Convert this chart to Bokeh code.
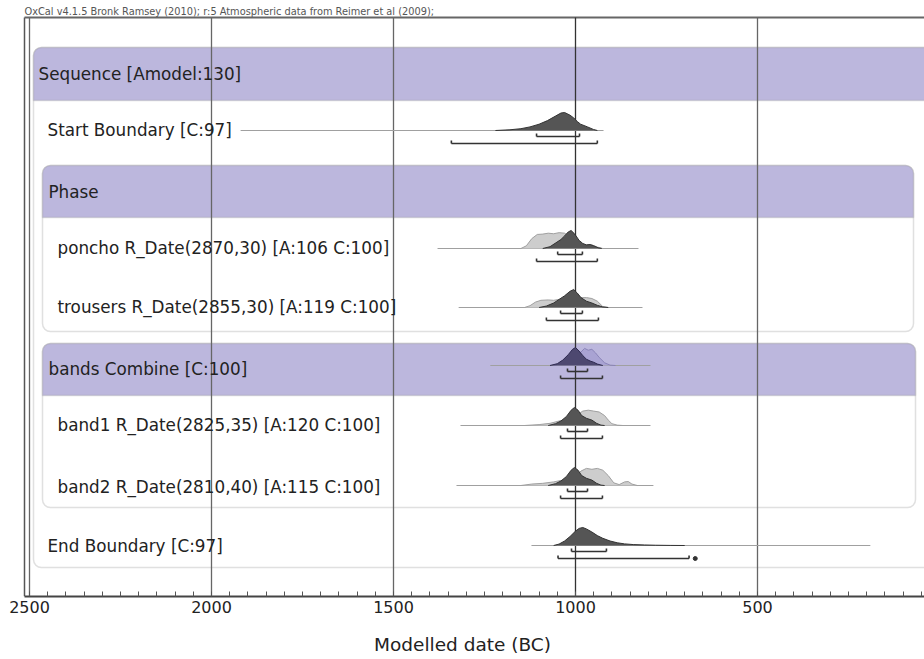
import numpy as np
from bokeh.plotting import figure
from bokeh.models import Range1d, SingleIntervalTicker, BoxAnnotation
from bokeh.embed import file_html
from bokeh.resources import INLINE
from bokeh.core.properties import value

# ---------------- data ----------------
HEADER = "OxCal v4.1.5 Bronk Ramsey (2010); r:5 Atmospheric data from Reimer et al (2009);"
AXIS_TITLE = "Modelled date (BC)"
TICK_YEARS = [2500, 2000, 1500, 1000, 500]

row_labels = [
    "Sequence [Amodel:130]",
    "Start Boundary [C:97]",
    "Phase",
    "poncho R_Date(2870,30) [A:106 C:100]",
    "trousers R_Date(2855,30) [A:119 C:100]",
    "bands Combine [C:100]",
    "band1 R_Date(2825,35) [A:120 C:100]",
    "band2 R_Date(2810,40) [A:115 C:100]",
    "End Boundary [C:97]",
]

# Start Boundary
start_span = [1920, 923]
start_post_x = [1220, 1180, 1150, 1125, 1100, 1077, 1055, 1040, 1030, 1015, 1005, 995, 986, 967, 951, 940]
start_post_p = [0, 0.04, 0.1, 0.2, 0.35, 0.55, 0.8, 0.97, 1.0, 0.85, 0.7, 0.5, 0.35, 0.2, 0.06, 0]
start_r68 = [1107, 989]
start_r95 = [1341, 940]

# poncho
poncho_span = [1379, 827]
poncho_like_x = [1150, 1135, 1120, 1105, 1090, 1075, 1060, 1045, 1030, 1015, 1000, 985, 970, 955, 940, 925]
poncho_like_p = [0, 0.15, 0.55, 0.78, 0.8, 0.85, 0.82, 0.88, 0.85, 0.65, 0.4, 0.25, 0.2, 0.2, 0.08, 0]
poncho_post_x = [1090, 1070, 1055, 1040, 1030, 1020, 1012, 1002, 990, 980, 970, 960, 950, 938, 928]
poncho_post_p = [0, 0.1, 0.3, 0.5, 0.7, 0.92, 1.0, 0.8, 0.45, 0.28, 0.2, 0.22, 0.15, 0.04, 0]
poncho_r68 = [1049, 981]
poncho_r95 = [1107, 940]

# trousers
trousers_span = [1321, 816]
trousers_like_x = [1140, 1125, 1110, 1095, 1075, 1060, 1045, 1030, 1015, 1000, 985, 970, 955, 940, 925, 910]
trousers_like_p = [0, 0.1, 0.3, 0.4, 0.42, 0.4, 0.45, 0.5, 0.6, 0.6, 0.55, 0.55, 0.5, 0.35, 0.05, 0]
trousers_post_x = [1100, 1080, 1060, 1045, 1030, 1015, 1005, 995, 985, 970, 955, 940, 925, 910]
trousers_post_p = [0, 0.08, 0.25, 0.45, 0.65, 0.9, 1.0, 0.8, 0.55, 0.35, 0.25, 0.12, 0.03, 0]
trousers_r68 = [1041, 981]
trousers_r95 = [1080, 937]

# bands Combine
combine_span = [1234, 794]
combine_like_x = [1060, 1040, 1020, 1000, 985, 975, 965, 955, 945, 935, 920, 905, 890]
combine_like_p = [0, 0.1, 0.35, 0.6, 0.75, 0.95, 0.85, 0.9, 0.7, 0.45, 0.15, 0.02, 0]
combine_post_x = [1070, 1050, 1035, 1020, 1008, 1000, 990, 980, 970, 960, 950, 940, 925]
combine_post_p = [0, 0.1, 0.3, 0.6, 0.9, 1.0, 0.8, 0.55, 0.35, 0.25, 0.18, 0.08, 0]
combine_r68 = [1022, 967]
combine_r95 = [1041, 926]

# band1
band1_span = [1316, 794]
band1_like_x = [1140, 1100, 1070, 1045, 1025, 1010, 995, 980, 965, 950, 935, 920, 910, 900, 885, 870]
band1_like_p = [0, 0.05, 0.12, 0.25, 0.35, 0.45, 0.6, 0.8, 0.85, 0.8, 0.75, 0.55, 0.3, 0.1, 0.02, 0]
band1_post_x = [1075, 1055, 1040, 1025, 1012, 1003, 993, 983, 970, 955, 942, 930, 920]
band1_post_p = [0, 0.1, 0.25, 0.5, 0.85, 1.0, 0.85, 0.55, 0.4, 0.3, 0.12, 0.02, 0]
band1_r68 = [1022, 967]
band1_r95 = [1041, 926]

# band2
band2_span = [1327, 786]
band2_like_x = [1150, 1120, 1090, 1060, 1040, 1020, 1000, 985, 970, 955, 940, 925, 910, 895, 880, 865, 855, 845, 830]
band2_like_p = [0, 0.08, 0.12, 0.2, 0.28, 0.35, 0.5, 0.8, 0.95, 0.9, 0.95, 0.85, 0.55, 0.15, 0.05, 0.2, 0.22, 0.08, 0]
band2_post_x = [1075, 1055, 1040, 1025, 1012, 1003, 993, 983, 970, 955, 942, 930, 920]
band2_post_p = [0, 0.1, 0.25, 0.5, 0.85, 1.0, 0.85, 0.55, 0.4, 0.3, 0.12, 0.02, 0]
band2_r68 = [1022, 967]
band2_r95 = [1041, 926]

# End Boundary
end_span = [1121, 190]
end_post_x = [1060, 1045, 1030, 1015, 1000, 990, 980, 970, 955, 940, 925, 905, 885, 865, 840, 810, 780, 740, 700]
end_post_p = [0, 0.08, 0.25, 0.5, 0.8, 0.95, 1.0, 0.92, 0.75, 0.55, 0.4, 0.25, 0.15, 0.09, 0.05, 0.03, 0.015, 0.005, 0]
end_r68 = [1011, 915]
end_r95 = [1048, 688]
end_r95_extra = [671]

# ---------------- layout ----------------
W, H = 924, 659
AX_H = 63
FRAME_BOTTOM = H - AX_H


def px2yr(px):
    return 2000 - (px - 211) / 0.364


FONT = value("DejaVu Sans")
GRAY = "#222222"
BAND = "#bcb7dd"
BORDER = "#999999"

p = figure(width=W, height=H, output_backend="svg", toolbar_location=None,
           x_range=Range1d(px2yr(0), px2yr(W)),
           y_range=Range1d(FRAME_BOTTOM, 0),
           min_border_left=0, min_border_right=0, min_border_top=0,
           min_border_bottom=AX_H)
p.outline_line_color = None
p.background_fill_color = "white"
p.border_fill_color = "white"
p.yaxis.visible = False
p.xgrid.visible = False
p.ygrid.visible = False

ax = p.xaxis[0]
ax.ticker = SingleIntervalTicker(interval=500, num_minor_ticks=10)
ax.bounds = (px2yr(930), px2yr(24))
ax.axis_line_color = "#444444"
ax.axis_line_width = 2
ax.major_tick_in = 0
ax.major_tick_out = 0
ax.minor_tick_in = 5
ax.minor_tick_out = 0
ax.minor_tick_line_color = "#555555"
ax.major_label_standoff = 4
ax.major_label_text_font = "DejaVu Sans"
ax.major_label_text_font_size = "16px"
ax.major_label_text_color = GRAY
ax.axis_label = AXIS_TITLE
ax.axis_label_standoff = 18
ax.axis_label_text_font = "DejaVu Sans"
ax.axis_label_text_font_size = "18.5px"
ax.axis_label_text_font_style = "normal"
ax.axis_label_text_color = GRAY


def box(l, r, t, b, fill, radius, line=BORDER):
    bx = BoxAnnotation(left=px2yr(l), right=px2yr(r), top=t, bottom=b,
                       fill_color=fill, fill_alpha=1.0, line_color=line,
                       line_width=1.5, border_radius=radius, level="image")
    p.add_layout(bx)


top_r = dict(top_left=8, top_right=8, bottom_right=0, bottom_left=0)
# Sequence box and header
box(33, 935, 47, 567, "white", 8)
box(33, 935, 47, 100, BAND, top_r)
# Phase box
box(42, 913, 165, 331, "white", 8)
box(42, 913, 165, 217, BAND, top_r)
# Combine box
box(42, 915, 343, 507, "white", 8)
box(42, 915, 343, 395, BAND, top_r)

# frame lines and vertical grid lines
p.segment(x0=[px2yr(24)], y0=[17], x1=[px2yr(24)], y1=[FRAME_BOTTOM], line_color="#555555", line_width=1.5)
p.segment(x0=[px2yr(24)], y0=[17], x1=[px2yr(940)], y1=[17], line_color="#666666", line_width=2)
grid_cols = ["#666666" if t != 1000 else "#333333" for t in TICK_YEARS]
p.segment(x0=TICK_YEARS, y0=[17] * len(TICK_YEARS), x1=TICK_YEARS, y1=[FRAME_BOTTOM] * len(TICK_YEARS),
          line_color=grid_cols, line_width=1.3)

# header text
p.text(x=[px2yr(24)], y=[11], text=[HEADER], text_font=FONT,
       text_font_size="9.8px", text_color="#555555", text_baseline="middle")

# row labels
label_px = [38, 47, 48, 57, 57, 48, 57, 57, 47]
label_py = [73, 129, 191, 247, 306, 368, 424, 486, 545]
p.text(x=[px2yr(v) for v in label_px], y=label_py, text=row_labels, text_font=FONT,
       text_font_size="16.8px", text_color=GRAY, text_baseline="middle")

HMAX = 18.0


def draw_row(base, span, like_x, like_p, post_x, post_p, r68, r95,
             like_col="#cdcdcd", like_edge="#a0a0a0", post_col="#555555", post_edge="#333333"):
    p.line(x=span, y=[base, base], line_color="#a0a0a0", line_width=1.2)
    if like_x is not None:
        yy = base - np.array(like_p) * HMAX
        p.varea(x=like_x, y1=[base] * len(like_x), y2=yy, fill_color=like_col)
        p.line(x=like_x, y=yy, line_color=like_edge, line_width=1)
    yy = base - np.array(post_p) * HMAX
    p.varea(x=post_x, y1=[base] * len(post_x), y2=yy, fill_color=post_col)
    p.line(x=post_x, y=yy, line_color=post_edge, line_width=1)
    for r, off in ((r68, 6), (r95, 13)):
        y = base + off
        p.segment(x0=[r[0], r[0], r[1]], y0=[y, y, y], x1=[r[1], r[0], r[1]], y1=[y, y - 3, y - 3],
                  line_color="#333333", line_width=1.6)


draw_row(130, start_span, None, None, start_post_x, start_post_p, start_r68, start_r95)
draw_row(248, poncho_span, poncho_like_x, poncho_like_p, poncho_post_x, poncho_post_p, poncho_r68, poncho_r95)
draw_row(307, trousers_span, trousers_like_x, trousers_like_p, trousers_post_x, trousers_post_p, trousers_r68, trousers_r95)
draw_row(365, combine_span, combine_like_x, combine_like_p, combine_post_x, combine_post_p, combine_r68, combine_r95,
         like_col="#a9a3d3", like_edge="#8a84b8", post_col="#4d4870", post_edge="#2e2a50")
draw_row(425, band1_span, band1_like_x, band1_like_p, band1_post_x, band1_post_p, band1_r68, band1_r95)
draw_row(485, band2_span, band2_like_x, band2_like_p, band2_post_x, band2_post_p, band2_r68, band2_r95)
draw_row(545, end_span, None, None, end_post_x, end_post_p, end_r68, end_r95)
p.scatter(x=end_r95_extra, y=[545 + 13], size=4, color="#333333")

open("out.html", "w").write(file_html(p, INLINE))
